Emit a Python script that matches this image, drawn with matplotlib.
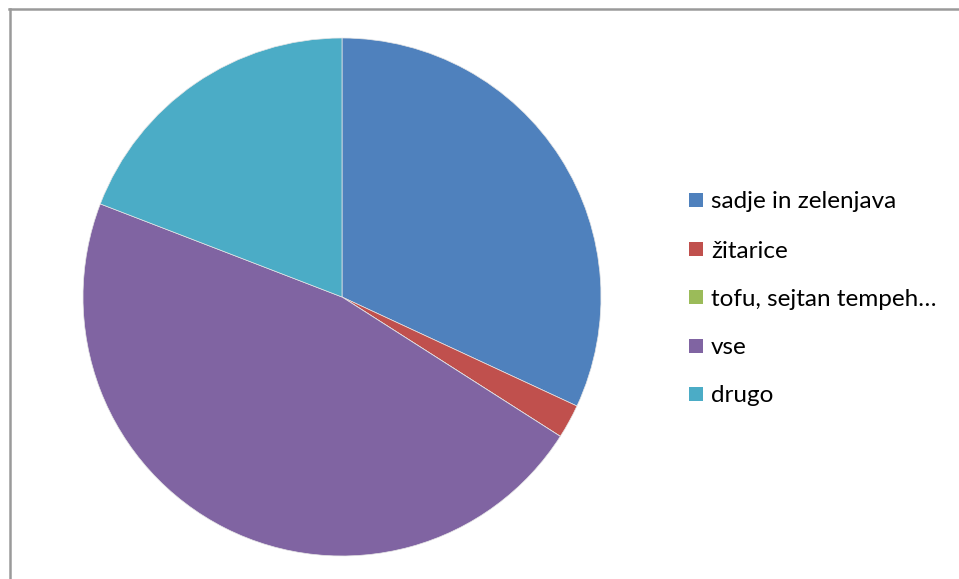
import matplotlib
matplotlib.use("Agg")
import matplotlib.pyplot as plt
from matplotlib.patches import Rectangle
from matplotlib.lines import Line2D

categories = ["sadje in zelenjava", "žitarice", "tofu, sejtan tempeh…", "vse", "drugo"]
values = [15, 1, 0, 22, 9]
colors = ["#4F81BD", "#C0504D", "#9BBB59", "#8064A2", "#4BACC6"]

W, H = 959, 579
fig = plt.figure(figsize=(W / 100, H / 100), dpi=100)
fig.patch.set_facecolor("white")

# outer chart frame (only top and left edges fall inside the canvas)
frame_col = "#9a9a9a"
fig.add_artist(Line2D([9 / W, 1.0], [1 - 8.5 / H, 1 - 8.5 / H], transform=fig.transFigure,
                      color=frame_col, lw=1.8))
fig.add_artist(Line2D([9.5 / W, 9.5 / W], [0.0, 1 - 8.5 / H], transform=fig.transFigure,
                      color=frame_col, lw=1.8))

# pie area
cx, cy, r = 342, 297, 259
ax = fig.add_axes([(cx - r) / W, 1 - (cy + r) / H, 2 * r / W, 2 * r / H])
ax.pie(values, colors=colors, startangle=90, counterclock=False,
       wedgeprops=dict(linewidth=0.5, edgecolor="#e6e6e6"))
ax.set_xlim(-1, 1)
ax.set_ylim(-1, 1)
ax.set_aspect("equal")
ax.axis("off")

# legend on the right
row_y = [200, 249, 297, 346, 394]
sq = 14
for lab, col, y in zip(categories, colors, row_y):
    fig.add_artist(Rectangle((689 / W, 1 - (y + sq / 2) / H), sq / W, sq / H,
                             transform=fig.transFigure, facecolor=col, edgecolor="none"))
    fig.text(711 / W, 1 - y / H, lab, fontsize=17.5, family="Lato",
             va="center_baseline", ha="left", color="#000000")

fig.savefig("out.png", dpi=100)
